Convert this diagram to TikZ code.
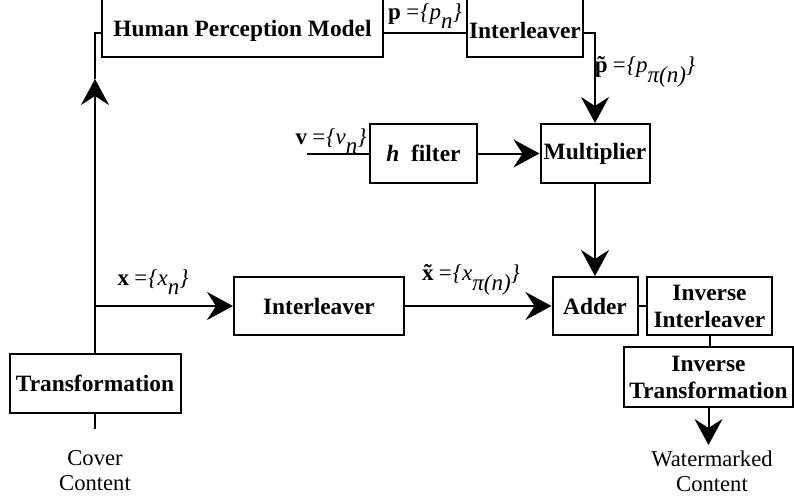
\documentclass[tikz,border=0pt]{standalone}
\usepackage{fontspec}
\setmainfont{Liberation Serif}
\usetikzlibrary{arrows.meta,calc}
\newcommand\lowsub[1]{\raisebox{-0.42em}{#1}}
\newcommand\tld[1]{\leavevmode\setbox0\hbox{#1}\rlap{\hbox to\wd0{\hss\char"02DC\hss}}\box0}
\begin{document}
\begin{tikzpicture}[x=0.5pt,y=-0.5pt,
  box/.style={draw,line width=1pt,inner sep=0pt,align=center,
    font=\fontsize{11.7}{13.5}\selectfont\bfseries},
  conn/.style={line width=1pt},
  arr/.style={line width=1pt,-{Stealth[length=13pt,width=14pt,inset=4.5pt]}},
  lab/.style={inner sep=0pt,font=\fontsize{11.5}{13}\selectfont},
  txt/.style={inner sep=0pt,align=center,font=\fontsize{11.3}{12.5}\selectfont}]
\clip (0,0) rectangle (794,503);
\useasboundingbox (0,0) rectangle (794,503);
% boxes
\node[box,minimum width=140.5pt,minimum height=36pt] (hpm) at (242.5,21) {\rule{0pt}{18pt}Human Perception Model};
\node[box,minimum width=58pt,minimum height=36pt] (il1) at (525,21) {\rule{0pt}{18pt}Interleaver};
\node[box,minimum width=53.5pt,minimum height=29.5pt] (hf) at (423.5,153.5) {\textit{h}\ \ filter};
\node[box,minimum width=54.5pt,minimum height=29.5pt] (mult) at (595,153.5) {Multiplier};
\node[box,minimum width=85pt,minimum height=29pt] (il2) at (319,306) {Interleaver};
\node[box,minimum width=42.5pt,minimum height=29pt] (adder) at (595,306) {Adder};
\node[box,minimum width=62.5pt,minimum height=29pt] (invil) at (709.5,306) {Inverse\\Interleaver};
\node[box,minimum width=84.5pt,minimum height=30pt] (invtr) at (708.5,377) {Inverse\\Transformation};
\node[box,minimum width=85.5pt,minimum height=29.5pt] (trans) at (95,383.5) {Transformation};
% texts
\node[txt] (cover) at (95,471) {Cover\\Content};
\node[txt] (wm) at (712,471) {Watermarked\\Content};
\node[lab] (plab) at (425,16) {\textbf{p}\,\textit{=\{p\lowsub{n}\}}};
\node[lab] (ptlab) at (645,72) {\textbf{\tld{p}}\,\textit{=\{p\lowsub{π(n)}\}}};
\node[lab] (vlab) at (331,141) {\textbf{v}\,\textit{=\{v\lowsub{n}\}}};
\node[lab] (xlab) at (153,282) {\textbf{x}\,\textit{=\{x\lowsub{n}\}}};
\node[lab] (xtlab) at (471,280) {\textbf{\tld{x}}\,\textit{=\{x\lowsub{π(n)}\}}};
% coordinates
\coordinate (ylink) at (0,33);
\coordinate (uptip) at (95,79);
\coordinate (vin) at (307,153.5);
\coordinate (cbot) at (95,429);
\coordinate (wtip) at (708.5,445);
% connectors
\draw[conn] (hpm.east |- ylink) -- (il1.west |- ylink);
\draw[arr] (il1.east |- ylink) -| (mult.north);
\draw[arr] (trans.north) -- (uptip);
\draw[conn] (uptip) |- (hpm.west |- ylink);
\draw[arr] (trans.north |- il2.west) -- (il2.west);
\draw[conn] (trans.south) -- (cbot);
\draw[conn] (vin) -- (hf.west);
\draw[arr] (hf.east) -- (mult.west);
\draw[arr] (mult.south) -- (adder.north);
\draw[arr] (il2.east) -- (adder.west);
\draw[conn] (adder.east) -- (invil.west);
\draw[conn] (invil.south) -- (invil.south |- invtr.north);
\draw[arr] (invtr.south) -- (wtip);
\end{tikzpicture}
\end{document}
